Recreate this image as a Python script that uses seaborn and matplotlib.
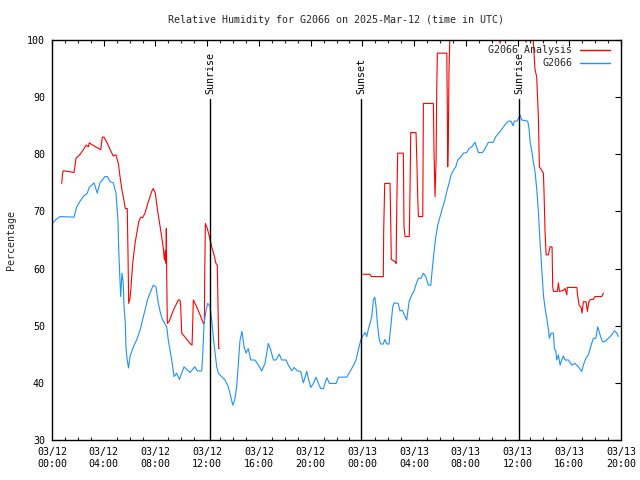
import numpy as np
import pandas as pd
import matplotlib
matplotlib.use("Agg")
import matplotlib.pyplot as plt
from matplotlib.lines import Line2D
from matplotlib.ticker import MultipleLocator
import seaborn as sns

# ---------------- data (hours since 2025-03-12 00:00 UTC) ----------------
obs_hours = [0.00, 0.31, 0.62, 1.70, 1.91, 2.17, 2.42, 2.73, 2.88, 3.25, 3.50, 3.71, 4.10, 4.28, 4.49,
             4.74, 4.95, 5.10, 5.16, 5.26, 5.31, 5.41, 5.51, 5.57, 5.67, 5.72, 5.80, 5.92, 6.03, 6.29,
             6.54, 6.81, 7.11, 7.42, 7.83, 8.04, 8.22, 8.41, 8.56, 8.87, 8.99, 9.26, 9.44, 9.64, 9.85,
             10.21, 10.67, 11.04, 11.24, 11.58, 11.66, 11.76, 11.91, 12.04, 12.22, 12.35, 12.47, 12.61,
             12.74, 12.86, 13.12, 13.38, 13.64, 13.82, 13.98, 14.13, 14.28, 14.41, 14.54, 14.69, 14.85,
             15.00, 15.18, 15.37, 15.70, 15.96, 16.22, 16.47, 16.73, 16.91, 17.12, 17.32, 17.58, 17.76,
             18.10, 18.28, 18.54, 18.72, 18.97, 19.23, 19.44, 19.70, 19.82, 20.01, 20.21, 20.42, 20.60,
             20.78, 20.98, 21.25, 21.45, 21.96, 22.17, 22.79, 23.05, 23.30, 23.51, 23.69, 23.88, 24.08,
             24.21, 24.34, 24.46, 24.59, 24.73, 24.85, 24.96, 25.06, 25.16, 25.31, 25.42, 25.62, 25.73,
             25.89, 26.06, 26.19, 26.35, 26.45, 26.76, 26.91, 27.09, 27.25, 27.43, 27.61, 27.82, 28.02,
             28.13, 28.33, 28.54, 28.72, 28.90, 29.10, 29.29, 29.41, 29.57, 29.68, 29.83, 30.01, 30.19,
             30.34, 30.53, 30.70, 30.86, 31.04, 31.22, 31.38, 31.63, 31.81, 32.07, 32.25, 32.46, 32.71,
             32.97, 33.28, 33.49, 33.74, 34.13, 34.32, 34.65, 34.83, 35.03, 35.29, 35.50, 35.65, 35.75,
             35.96, 36.19, 36.32, 36.79, 36.89, 36.97, 37.10, 37.22, 37.35, 37.48, 37.61, 37.74, 37.87,
             38.00, 38.13, 38.26, 38.38, 38.46, 38.59, 38.77, 38.85, 38.96, 39.03, 39.16, 39.29, 39.42,
             39.54, 39.68, 39.93, 40.19, 40.45, 40.70, 40.97, 41.09, 41.28, 41.48, 41.69, 41.86, 42.05,
             42.20, 42.38, 42.56, 42.72, 43.03, 43.29, 43.49, 43.68, 43.80]
obs_rh = [67.8, 68.6, 69.1, 69.0, 70.8, 71.8, 72.6, 73.2, 74.2, 75.0, 73.2, 75.0, 76.1, 76.1, 75.2,
          75.0, 73.2, 68.5, 63.2, 57.7, 55.1, 59.2, 57.5, 53.3, 50.4, 46.3, 44.2, 42.6, 44.6, 46.3,
          47.5, 49.2, 52.0, 54.8, 57.1, 56.8, 53.9, 52.0, 51.0, 49.8, 47.5, 44.0, 41.1, 41.7, 40.6,
          42.8, 41.8, 42.8, 42.1, 42.1, 45.2, 50.4, 52.7, 53.9, 53.4, 51.0, 48.1, 45.2,
          42.8, 41.7, 41.1, 40.5, 39.3, 37.6, 36.1, 37.0, 39.3, 43.4, 47.5, 49.0, 46.3,
          45.2, 46.0, 44.0, 44.0, 43.1, 42.1, 43.4, 46.9, 45.8, 44.0, 44.0, 45.0, 44.0,
          44.0, 43.1, 42.1, 42.7, 42.1, 42.0, 40.0, 42.0, 40.8, 39.2, 39.9, 41.0, 39.9,
          39.0, 39.0, 40.9, 39.9, 39.9, 41.0, 41.0, 42.0, 43.0, 44.0, 45.8, 47.5, 48.4,
          48.8, 48.1, 49.4, 50.4, 51.6, 54.5, 55.0, 53.3, 50.4, 47.5, 46.8, 46.8, 47.6,
          46.8, 46.8, 49.8, 53.3, 54.0, 53.9, 52.6, 52.7, 51.9, 51.0, 54.2, 55.4, 56.2,
          57.1, 58.3, 58.3, 59.2, 58.6, 57.1, 57.1, 60.0, 63.5, 65.6, 67.6, 69.1, 70.6,
          71.7, 73.5, 74.9, 76.4, 77.2, 77.8, 79.0, 79.6, 80.2, 80.3, 81.0, 81.3, 82.1,
          80.3, 80.3, 81.0, 82.1, 82.1, 83.1, 84.0, 84.5, 85.2, 85.8, 85.8, 85.0, 85.8,
          85.8, 86.9, 86.0, 85.8, 84.5, 82.2, 80.5, 78.7, 77.0, 74.0, 70.0, 64.7, 60.0,
          55.4, 53.0, 51.3, 49.5, 47.8, 48.7, 48.7, 46.0, 45.5, 44.0, 44.9, 43.1, 44.0,
          44.7, 44.0, 44.0, 43.1, 43.4, 42.8, 42.0, 43.1, 44.3, 44.9, 46.6, 47.8, 47.8,
          49.8, 48.4, 47.2, 47.2, 47.8, 48.4, 49.1, 48.7, 48.1]

ana1_hours = [0.75, 0.81, 0.87, 1.26, 1.70, 1.86, 2.17, 2.42, 2.63, 2.81, 2.88, 3.15, 3.46, 3.77, 3.89,
              4.02, 4.28, 4.54, 4.74, 4.95, 5.13, 5.26, 5.39, 5.51, 5.67, 5.82, 5.88, 5.93, 6.03, 6.09,
              6.24, 6.42, 6.60, 6.71, 6.86, 7.01, 7.19, 7.45, 7.71, 7.83, 7.99, 8.14, 8.30, 8.48, 8.61,
              8.69, 8.77, 8.82, 8.84, 8.87, 8.92, 9.07, 9.38, 9.77, 9.90, 9.95, 10.03, 10.29, 10.67,
              10.83, 10.88, 10.93, 11.19, 11.45, 11.70, 11.78, 11.81, 11.86, 12.01, 12.17, 12.35, 12.53,
              12.68, 12.78, 12.84, 12.89, 12.94]
ana1_rh = [74.9, 76.5, 77.1, 77.0, 76.8, 79.3, 80.0, 80.8, 81.6, 81.3, 82.0, 81.6, 81.2, 80.8, 83.0,
           83.0, 81.9, 80.6, 79.7, 79.9, 78.4, 76.1, 74.0, 72.6, 70.5, 70.5, 62.1, 53.9, 54.8, 56.2,
           60.9, 64.4, 66.8, 68.2, 69.0, 68.9, 69.7, 71.7, 73.5, 74.0, 73.2, 70.5, 68.2, 65.6, 63.5,
           61.5, 63.2, 60.9, 67.0, 58.6, 50.4, 50.8, 52.7, 54.5, 54.5, 53.4, 48.7, 48.0, 46.9,
           46.6, 50.4, 54.5, 53.3, 51.9, 50.4, 50.4, 59.2, 67.9, 67.0, 65.6, 63.8, 62.4,
           60.9, 60.6, 53.3, 46.0, 46.0]

ana2_hours = [24.03, 24.59, 24.69, 25.62, 25.65, 25.73, 26.14, 26.19, 26.24, 26.53, 26.61, 26.66, 26.73,
              27.17, 27.22, 27.30, 27.63, 27.69, 27.74, 28.15, 28.20, 28.28, 28.33, 28.67, 28.72, 29.49,
              29.54, 29.62, 29.70, 29.75, 29.80, 30.53, 30.57, 30.60, 30.65, 30.70, 30.78, 32.33, 34.57,
              34.65, 34.73, 36.58, 36.66, 36.74, 37.20, 37.35, 37.48, 37.61, 37.69, 37.87, 38.00, 38.05,
              38.13, 38.21, 38.38, 38.51, 38.67, 38.72, 38.77, 39.08, 39.16, 39.24, 39.54, 39.68, 39.81,
              39.85, 40.58, 40.66, 40.76, 40.91, 40.99, 41.09, 41.30, 41.40, 41.51, 41.66, 41.86, 41.99,
              42.51, 42.64]
ana2_rh = [59.0, 59.0, 58.6, 58.6, 66.8, 74.9, 74.9, 68.5, 61.6, 61.2, 60.9, 70.5, 80.2,
           80.2, 67.3, 65.6, 65.6, 74.6, 83.8, 83.8, 79.9, 72.9, 69.1, 69.1, 88.9, 88.9,
           80.8, 72.6, 79.0, 91.2, 97.7, 97.7, 87.8, 77.8, 83.1, 94.8, 101.5, 103.0, 101.0,
           99.4, 101.0, 100.5, 99.6, 101.0, 100.5, 94.8, 93.6, 86.6, 77.8, 77.2, 76.7, 73.2,
           66.2, 62.4, 62.4, 63.8, 63.8, 56.8, 56.0, 56.0, 57.5, 56.0, 56.2, 56.5, 55.4,
           56.7, 56.7, 55.1, 53.6, 53.2, 52.2, 54.2, 54.2, 52.5, 54.2, 54.6, 54.6, 55.1,
           55.1, 55.7]

event_hours = [12.22, 23.89, 36.12]
event_names = ["Sunrise", "Sunset", "Sunrise"]
event_top = 89.6

tick_hours = [0, 4, 8, 12, 16, 20, 24, 28, 32, 36, 40, 44]
tick_labels = ["03/12\n00:00", "03/12\n04:00", "03/12\n08:00", "03/12\n12:00",
               "03/12\n16:00", "03/12\n20:00", "03/13\n00:00", "03/13\n04:00",
               "03/13\n08:00", "03/13\n12:00", "03/13\n16:00", "03/13\n20:00"]

title = "Relative Humidity for G2066 on 2025-Mar-12 (time in UTC)"
series_names = ["G2066 Analysis", "G2066"]
colors = ["#ff0000", "#1e90ff"]

# ---------------- tables ----------------
obs_df = pd.DataFrame({"hour": obs_hours, "rh": obs_rh})
ana_df = pd.concat([
    pd.DataFrame({"hour": ana1_hours, "rh": ana1_rh, "seg": 1}),
    pd.DataFrame({"hour": ana2_hours, "rh": ana2_rh, "seg": 2}),
], ignore_index=True)

# ---------------- plot ----------------
sns.set_style("white")
plt.rcParams["font.family"] = ["DejaVu Sans Mono"]
FS = 7.2
plt.rcParams["font.size"] = FS

fig = plt.figure(figsize=(6.4, 4.8), dpi=100)
ax = fig.add_axes([52 / 640, 40 / 480, 569 / 640, 400 / 480])

sns.lineplot(data=ana_df, x="hour", y="rh", units="seg", estimator=None,
             color=colors[0], linewidth=0.8, ax=ax, legend=False)
sns.lineplot(data=obs_df, x="hour", y="rh", estimator=None,
             color=colors[1], linewidth=0.8, ax=ax, legend=False)

for h, name in zip(event_hours, event_names):
    ax.plot([h, h], [30, event_top], color="black", linewidth=1.0)
    ax.text(h, event_top + 0.9, name, rotation=90, ha="center", va="bottom",
            fontsize=FS, color="black")

ax.set_xlim(0, 44)
ax.set_ylim(30, 100)
ax.set_xticks(tick_hours)
ax.set_xticklabels(tick_labels)
ax.xaxis.set_minor_locator(MultipleLocator(1))
ax.set_yticks(np.arange(30, 101, 10))
ax.tick_params(which="major", direction="in", length=4.5, width=0.8,
               top=True, right=True, pad=5, labelsize=FS, colors="black")
ax.tick_params(which="minor", direction="in", length=2.2, width=0.8,
               top=True, right=False, left=False, bottom=True)
for s in ax.spines.values():
    s.set_color("black")
    s.set_linewidth(1.0)

ax.set_xlabel("")
ax.set_ylabel("Percentage", fontsize=FS, labelpad=8)
ax.set_title(title, fontsize=FS, pad=12)

handles = [Line2D([], [], color=c, linewidth=1.0) for c in colors]
ax.legend(handles, series_names, loc="upper right", bbox_to_anchor=(1 - 6 / 569, 1.0),
          frameon=False, markerfirst=False,
          handlelength=3.0, handletextpad=0.7, labelspacing=0.3, borderaxespad=0.25,
          borderpad=0.3, fontsize=FS)

fig.savefig("out.png", dpi=100, facecolor="white")
